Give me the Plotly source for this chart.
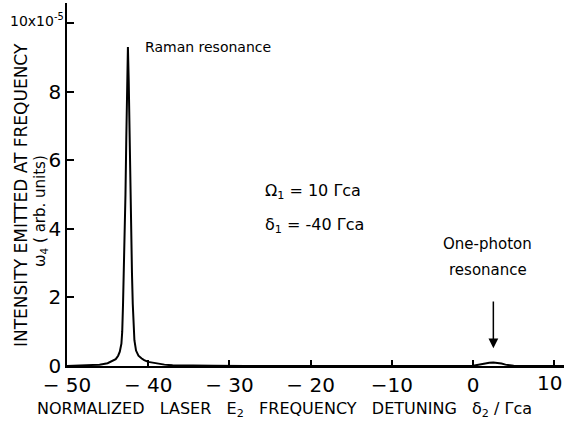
import plotly.graph_objects as go

# Normalized detuning delta2/Gamma_ca
detuning = [-50, -48, -47, -46, -45, -44.5, -44, -43.7, -43.5, -43.3, -43.2, -43.1, -43.0,
            -42.9, -42.8, -42.7, -42.6, -42.5, -42.4, -42.3, -42.2, -42.1, -42.0, -41.9,
            -41.8, -41.7, -41.5, -41.2, -40.8, -40.5, -40, -39, -38, -37, -35, -32, -28,
            -20, -5, -1, 0, 0.5, 1, 1.5, 2, 2.5, 3, 3.5, 4, 4.5, 5, 6, 11.2]
# Emitted intensity (units of 1e-5, arb.)
intensity = [0, 0.01, 0.02, 0.04, 0.08, 0.13, 0.2, 0.3, 0.42, 0.65, 1.0, 1.8, 2.7,
             3.6, 5.0, 6.6, 8.3, 9.3, 8.3, 6.6, 5.0, 3.6, 2.7, 1.8,
             1.1, 0.75, 0.45, 0.3, 0.22, 0.17, 0.12, 0.07, 0.04, 0.02, 0.01, 0.004, 0,
             0, 0, 0.003, 0.01, 0.03, 0.055, 0.08, 0.095, 0.1, 0.095, 0.07, 0.04, 0.015, 0.005, 0, 0]

x_tickvals = [-50, -40, -30, -20, -10, 0, 10]
x_ticktext = ["\u2212 50", "\u2212 40", "\u2212 30", "\u2212 20", "\u221210", "0", ""]
y_tickvals = [0, 2, 4, 6, 8, 10]
y_ticktext = ["0", "2", "4", "6", "8", ""]

FONT = "DejaVu Sans"

fig = go.Figure()
fig.add_trace(go.Scatter(x=detuning, y=intensity, mode="lines",
                         line=dict(color="black", width=2), hoverinfo="skip"))

fig.update_layout(
    width=564, height=421,
    margin=dict(l=67, r=0, t=3, b=55),
    paper_bgcolor="white", plot_bgcolor="white",
    showlegend=False,
    font=dict(family=FONT, color="black"),
    xaxis=dict(range=[-50, 11.2], tickvals=x_tickvals, ticktext=x_ticktext,
               ticks="inside", ticklen=6, tickwidth=1.5, tickcolor="black",
               showline=True, linecolor="black", linewidth=1.5, showgrid=False,
               zeroline=False, tickfont=dict(size=20, family=FONT)),
    yaxis=dict(range=[0, 10.58], tickvals=y_tickvals, ticktext=y_ticktext,
               ticks="inside", ticklen=7, tickwidth=1.5, tickcolor="black",
               showline=True, linecolor="black", linewidth=1.5, showgrid=False,
               zeroline=False, tickfont=dict(size=20, family=FONT)),
)

ann = [
    dict(x=0, y=10, xref="paper", yref="y", text="10x10<sup>-5</sup>", showarrow=False,
         xanchor="right", yanchor="middle", xshift=-1, yshift=3, font=dict(size=14)),
    dict(x=1, y=0, xref="paper", yref="y", text="10", showarrow=False,
         xanchor="right", yanchor="top", xshift=0, yshift=-3, font=dict(size=20)),
    dict(x=-40.6, y=9.3, text="Raman resonance", showarrow=False, xanchor="left",
         yanchor="middle", font=dict(size=14)),
    dict(x=-25.9, y=5.1, text="\u03a9<sub>1</sub> = 10 \u0393ca", showarrow=False,
         xanchor="left", yanchor="middle", font=dict(size=16)),
    dict(x=-25.9, y=4.1, text="\u03b4<sub>1</sub> = -40 \u0393ca", showarrow=False,
         xanchor="left", yanchor="middle", font=dict(size=16)),
    dict(x=1.8, y=3.55, text="One-photon", showarrow=False, xanchor="center",
         yanchor="middle", font=dict(size=15)),
    dict(x=1.8, y=2.8, text="resonance", showarrow=False, xanchor="center",
         yanchor="middle", font=dict(size=15)),
    dict(x=2.5, y=0.52, ax=2.5, ay=1.92, axref="x", ayref="y", text="", showarrow=True,
         arrowhead=2, arrowsize=1.3, arrowwidth=1.5, arrowcolor="black"),
    dict(x=0, y=0.471, xref="paper", yref="paper", xanchor="center", yanchor="middle",
         text="INTENSITY EMITTED AT FREQUENCY", textangle=-90, showarrow=False,
         xshift=-46, font=dict(size=17)),
    dict(x=0, y=0.427, xref="paper", yref="paper", xanchor="center", yanchor="middle",
         text="\u03c9<sub>4</sub> ( arb. units)", textangle=-90, showarrow=False,
         xshift=-26, font=dict(size=15)),
    dict(x=0.5, y=0, xref="paper", yref="paper", xanchor="center", yanchor="top",
         text="NORMALIZED\u00a0\u00a0 LASER\u00a0\u00a0 E<sub>2</sub>\u00a0\u00a0 FREQUENCY\u00a0\u00a0 DETUNING\u00a0\u00a0 \u03b4<sub>2</sub> / \u0393ca",
         showarrow=False, xshift=-31, yshift=-31, font=dict(size=16)),
]
fig.update_layout(annotations=ann)

fig.write_html("out.html")
